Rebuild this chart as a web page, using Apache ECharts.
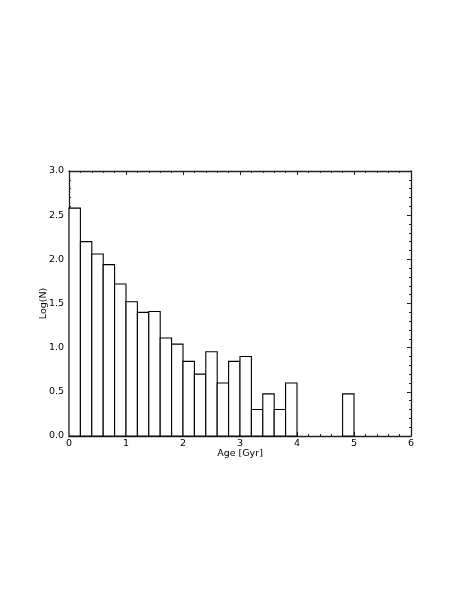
<!DOCTYPE html>
<html>
<head>
<meta charset="utf-8">
<script src="https://cdn.jsdelivr.net/npm/echarts@6/dist/echarts.min.js"></script>
<style>
  html, body { margin: 0; padding: 0; background: #fff; }
  #main { width: 469px; height: 607px; }
</style>
</head>
<body>
<div id="main"></div>
<script>
// histogram bins (Gyr) and log10 counts
var binStart = [0.0, 0.2, 0.4, 0.6, 0.8, 1.0, 1.2, 1.4, 1.6, 1.8, 2.0, 2.2, 2.4, 2.6, 2.8, 3.0, 3.2, 3.4, 3.6, 3.8, 4.8];
var binWidth = 0.2;
var logN = [2.58, 2.20, 2.06, 1.94, 1.72, 1.52, 1.40, 1.41, 1.11, 1.04, 0.845, 0.70, 0.954, 0.60, 0.845, 0.90, 0.30, 0.477, 0.30, 0.60, 0.477];

var FONT = "DejaVu Sans";
var FS = 9.5;
var data = binStart.map(function (x, i) { return [x, x + binWidth, logN[i]]; });

function axisBase(show) {
  return {
    axisLine: { show: true, onZero: false, lineStyle: { color: "#222", width: 1.3 } },
    axisTick: { show: true, inside: true, length: 4, lineStyle: { color: "#222" } },
    minorTick: { show: true, splitNumber: 5, length: 2, lineStyle: { color: "#222" } },
    splitLine: { show: false },
    axisLabel: { show: show, color: "#000", fontFamily: FONT, fontSize: FS, margin: 3 }
  };
}

var chart = echarts.init(document.getElementById("main"));
var option = {
  animation: false,
  grid: { left: 69, top: 171, width: 342, height: 265, containLabel: false },
  xAxis: [
    Object.assign(axisBase(true), {
      type: "value", min: 0, max: 6, interval: 1, position: "bottom",
      name: "Age [Gyr]", nameLocation: "middle", nameGap: 13, nameMoveOverlap: false,
      nameTextStyle: { color: "#000", fontFamily: FONT, fontSize: FS }
    }),
    Object.assign(axisBase(false), { type: "value", min: 0, max: 6, interval: 1, position: "top" })
  ],
  yAxis: [
    Object.assign(axisBase(true), {
      type: "value", min: 0, max: 3, interval: 0.5, position: "left",
      name: "Log(N)", nameLocation: "middle", nameGap: 20, nameMoveOverlap: false,
      nameTextStyle: { color: "#000", fontFamily: FONT, fontSize: FS },
      axisLabel: { color: "#000", fontFamily: FONT, fontSize: FS, margin: 5,
        formatter: function (v) { return v.toFixed(1); } }
    }),
    Object.assign(axisBase(false), { type: "value", min: 0, max: 3, interval: 0.5, position: "right" })
  ],
  series: [{
    type: "custom",
    xAxisIndex: 0,
    yAxisIndex: 0,
    data: data,
    encode: { x: [0, 1], y: 2 },
    renderItem: function (params, api) {
      var p0 = api.coord([api.value(0), api.value(2)]);
      var p1 = api.coord([api.value(1), 0]);
      return {
        type: "rect",
        shape: { x: p0[0], y: p0[1], width: p1[0] - p0[0], height: p1[1] - p0[1] },
        style: { fill: "#fff", stroke: "#000", lineWidth: 1.1 }
      };
    }
  }]
};
chart.setOption(option);
</script>
</body>
</html>
